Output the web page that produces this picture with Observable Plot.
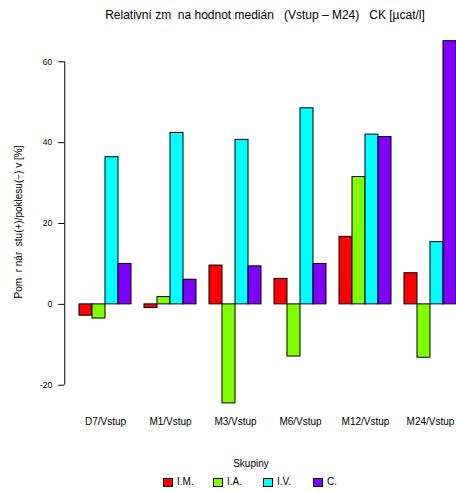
<!DOCTYPE html>
<html>
<head>
<meta charset="utf-8">
<script src="https://cdn.jsdelivr.net/npm/d3@7"></script>
<script src="https://cdn.jsdelivr.net/npm/@observablehq/plot@0.6"></script>
<style>
  body { margin: 0; background: #fff; font-family: "Liberation Sans", Arial, sans-serif; color: #000; }
  #wrap { position: relative; width: 456px; height: 492px; overflow: hidden; background: #fff; }
  #title { position: absolute; left: 74px; width: 382px; top: 8px; text-align: center; font-size: 12px; line-height: 14px; white-space: pre; z-index: 2; }
  #ylab { position: absolute; left: 19px; top: 222px; transform: translate(-50%, -50%) rotate(-90deg); font-size: 10px; line-height: 12px; white-space: pre; z-index: 2; }
  #chart { position: absolute; left: 0; top: 24px; z-index: 1; }
  #chart svg text { white-space: pre; }
  #legtitle { position: absolute; left: 46px; width: 410px; top: 457px; text-align: center; font-size: 10px; line-height: 14px; z-index: 2; }
  #legend { position: absolute; left: 163px; top: 475px; display: flex; font-size: 10px; line-height: 14px; z-index: 2; }
  .item { width: 50px; display: flex; align-items: center; }
  .box { width: 8px; height: 7px; border: 1px solid #000; margin-right: 4px; }
</style>
</head>
<body>
<div id="wrap">
  <div id="chart"></div>
  <div id="title"></div>
  <div id="ylab"></div>
  <div id="legtitle"></div>
  <div id="legend"></div>
</div>
<script>
// ---- data ----
const titleText = "Relativní zm  na hodnot medián   (Vstup – M24)   CK [µcat/l]";
const yLabelText = "Pom  r nár  stu(+)/poklesu(−) v [%]";
const legendTitle = "Skupiny";
const groups = ["D7/Vstup", "M1/Vstup", "M3/Vstup", "M6/Vstup", "M12/Vstup", "M24/Vstup"];
const series = ["I.M.", "I.A.", "I.V.", "C."];
const imValues = [-2.8, -0.9, 9.6, 6.3, 16.7, 7.7];
const iaValues = [-3.5, 1.8, -24.5, -12.9, 31.5, -13.2];
const ivValues = [36.4, 42.4, 40.7, 48.5, 42.0, 15.4];
const cValues = [10.0, 6.1, 9.4, 10.0, 41.4, 65.1];
const colors = ["#FF0000", "#80FF00", "#00FFFF", "#8000FF"];
const yTicks = [-20, 0, 20, 40, 60];

// ---- table ----
const seriesValues = [imValues, iaValues, ivValues, cValues];
const rows = [];
groups.forEach((g, i) => series.forEach((s, j) => rows.push({group: g, series: s, value: seriesValues[j][i]})));

// R-style y limits: range(values, 0) expanded by 4%
const allVals = rows.map(d => d.value).concat([0]);
const lo = d3.min(allVals), hi = d3.max(allVals), pad = (hi - lo) * 0.04;
const yDomain = [lo - pad, hi + pad];

const W = 456, ML = 65, MR = 0;
const unit = (W - ML - MR) / (groups.length * 5);
const axisDx = -(unit + 1.7);
const ruleDx = -(unit * 1.5 + 1.7);

const chart = Plot.plot({
  width: W,
  height: 416,
  marginLeft: ML,
  marginRight: MR,
  marginTop: 2.2,
  marginBottom: 22.6,
  style: {fontFamily: '"Liberation Sans", Arial, sans-serif', fontSize: "10px", color: "#000", background: "transparent", overflow: "visible"},
  fx: {domain: groups, paddingInner: 0.2, paddingOuter: 0.1, align: 1, label: null},
  x: {domain: series, padding: 0, axis: null},
  y: {domain: yDomain},
  color: {domain: series, range: colors},
  marks: [
    Plot.barY(rows, {fx: "group", x: "series", y: "value", fill: "series", stroke: "#000", strokeWidth: 1}),
    Plot.axisY({anchor: "left", ticks: yTicks, tickFormat: d => String(d), tickSize: 6, tickPadding: 6.5, dx: axisDx, label: null, fontSize: 8.5}),
    Plot.ruleX([{lo: d3.min(yTicks), hi: d3.max(yTicks)}], {fx: () => groups[0], x: () => series[0], y1: "lo", y2: "hi", dx: ruleDx, stroke: "#000", strokeWidth: 1}),
    Plot.axisFx({anchor: "bottom", tickSize: 0, tickPadding: 0, label: null, fontSize: 10})
  ]
});
document.getElementById("chart").appendChild(chart);

document.getElementById("title").textContent = titleText;
document.getElementById("ylab").textContent = yLabelText;
document.getElementById("legtitle").textContent = legendTitle;
const leg = d3.select("#legend");
series.forEach((s, j) => {
  const it = leg.append("div").attr("class", "item");
  it.append("div").attr("class", "box").style("background", colors[j]);
  it.append("span").text(s);
});
</script>
</body>
</html>
